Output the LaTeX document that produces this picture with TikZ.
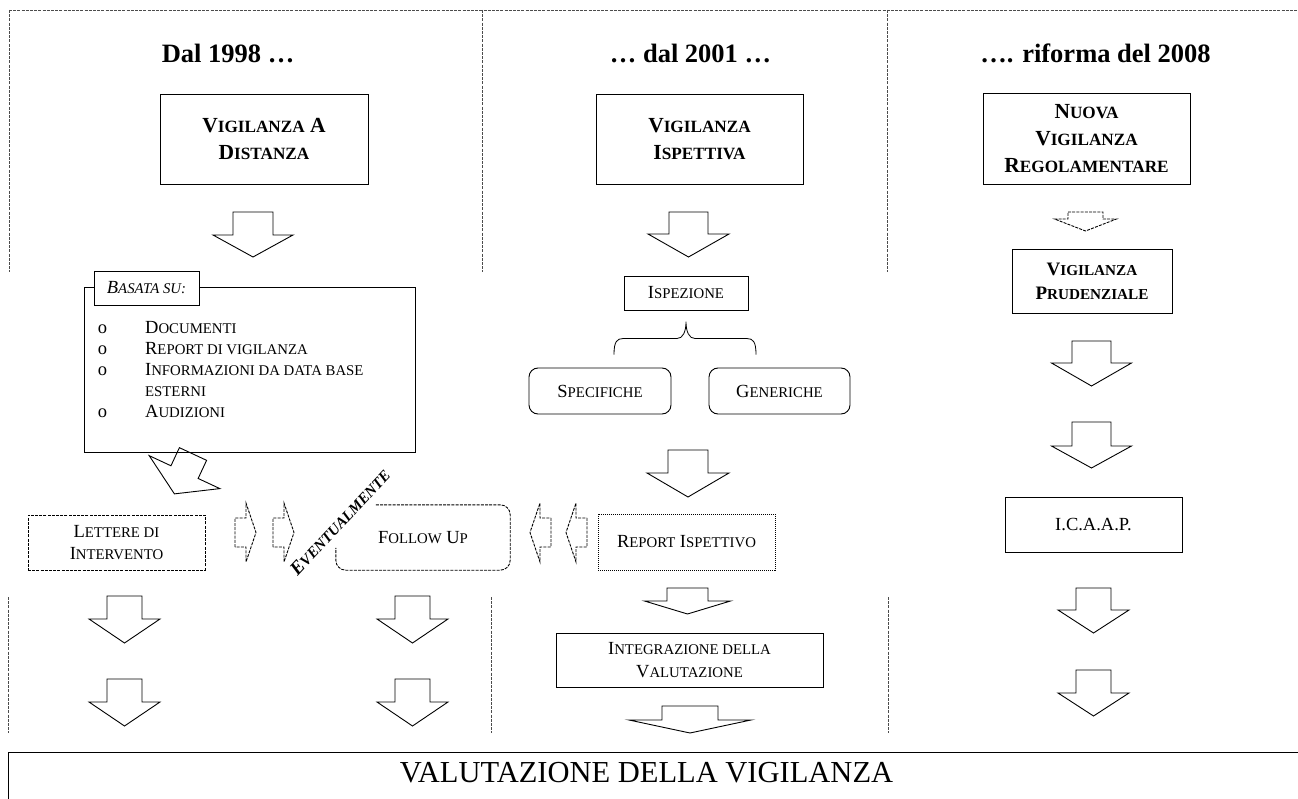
\documentclass[tikz,border=0pt]{standalone}
\usepackage{fontspec}
\setmainfont{Liberation Serif}
\usetikzlibrary{matrix,positioning,calc}

\makeatletter
\newcommand\piccole[1]{{\fontsize{\fpeval{0.8*\f@size}}{\f@baselineskip}\selectfont #1}}
\makeatother
\newcommand\testo{\fontsize{18.5}{22.5}\selectfont}

\tikzset{
pics/freccia/.style args={#1/#2/#3/#4}{code={
  \draw (-#1,0) -- (#1,0) -- (#1,#3) -- (#2,#3) -- (0,#3+#4) -- (-#2,#3) -- (-#1,#3) -- cycle;
  }}
}

\begin{document}
\begin{tikzpicture}[
x=1pt,y=-1pt,
titolo/.style={
  font=\fontsize{26.5}{32}\selectfont\bfseries,
  anchor=base
  },
testata/.style={
  draw,
  line width=0.9pt,
  align=center,
  inner sep=0pt,
  font=\fontsize{21.5}{27}\selectfont\bfseries
  },
scatola/.style={
  draw,
  line width=0.9pt,
  align=center,
  inner sep=0pt,
  font=\testo
  },
tonda/.style={scatola, rounded corners=9pt},
divisore/.style={dash pattern=on 3pt off 1.2pt, line width=0.7pt, black!70},
tratteggio/.style={dash pattern=on 3pt off 1.2pt},
puntini/.style={dash pattern=on 1pt off 1pt},
blocco/.style={line width=0.9pt}
]
\useasboundingbox (0,0) rectangle (1298,799);
\clip (0,0) rectangle (1298,799);

\draw[divisore] (9,10) -- (1298,10);
\foreach \xc in {9,482,887}
  \draw[divisore] (\xc,10) -- (\xc,272);
\foreach \xc in {8,491,888}
  \draw[divisore] (\xc,597) -- (\xc,733);

\node[titolo] (t1998) at (228,63) {Dal 1998 …};
\node[titolo] (t2001) at (690.5,63) {… dal 2001 …};
\node[titolo] (t2008) at (1095.5,63) {…. riforma del 2008};

\node[testata, minimum width=208pt, minimum height=90pt] (vdist) at (264,139) {V\piccole{IGILANZA} A\\D\piccole{ISTANZA}};
\node[testata, minimum width=207pt, minimum height=90pt] (visp) at (699.5,139) {V\piccole{IGILANZA}\\I\piccole{SPETTIVA}};
\node[testata, minimum width=207pt, minimum height=91pt] (vreg) at (1086.5,138.5) {N\piccole{UOVA}\\V\piccole{IGILANZA}\\R\piccole{EGOLAMENTARE}};
\node[testata, font=\fontsize{19}{24}\selectfont\bfseries, minimum width=160pt, minimum height=64pt] (vprud) at (1092,281) {V\piccole{IGILANZA}\\P\piccole{RUDENZIALE}};
\node[scatola, minimum width=177pt, minimum height=55pt] (icaap) at (1093.5,524.5) {I.C.A.A.P.};

\node[scatola, minimum width=124pt, minimum height=34pt] (isp) at (686,293) {I\piccole{SPEZIONE}};
\node[tonda, minimum width=142pt, minimum height=46pt] (spec) at (600,391) {S\piccole{PECIFICHE}};
\node[tonda, minimum width=141pt, minimum height=46pt] (gen) at (779.5,391) {G\piccole{ENERICHE}};
\node[scatola, puntini, minimum width=177pt, minimum height=56pt] (rep) at (686.5,542) {R\piccole{EPORT} I\piccole{SPETTIVO}};
\node[scatola, minimum width=267pt, minimum height=54pt] (integ) at (689.5,660) {I\piccole{NTEGRAZIONE DELLA}\\V\piccole{ALUTAZIONE}};

\coordinate (graffa) at ($(spec.north)+(14,-13)$);
\draw[line width=0.8pt] (graffa) .. controls +(0,-13) and +(-6,0) .. ++(9,-16) -- ++(54,0)
  .. controls +(6,0) and +(0,10) .. ++(9,-17) .. controls +(0,10) and +(-6,0) .. ++(9,17)
  -- ++(52,0) .. controls +(6,0) and +(0,-13) .. ++(9,16);

\node[scatola, minimum width=331pt, minimum height=165pt] (basata) at (249.5,369.5) {};
\node[scatola, fill=white, font=\testo\itshape, minimum width=105pt, minimum height=34pt] (tab) at (146.5,288) {B\piccole{ASATA SU:}};
\matrix (liste) [
  matrix of nodes,
  anchor=north west,
  inner sep=0pt,
  column sep=38pt,
  row sep=5pt,
  nodes={inner sep=0pt, anchor=base west, text height=12pt, text depth=4pt, font=\testo}
  ] at (97.5,321)
{
o & D\piccole{OCUMENTI} \\
o & R\piccole{EPORT DI VIGILANZA} \\
o & I\piccole{NFORMAZIONI DA DATA BASE} \\
  & \piccole{ESTERNI} \\
o & A\piccole{UDIZIONI} \\
};

\node[scatola, tratteggio, minimum width=177pt, minimum height=55pt] (lett) at (116.5,542.5) {L\piccole{ETTERE DI}\\I\piccole{NTERVENTO}};
\node[font=\testo, minimum width=174pt, minimum height=65pt] (fu) at (423,537.5) {F\piccole{OLLOW} U\piccole{P}};
\draw[line width=0.9pt, tratteggio, rounded corners=10pt] ($(fu.north west)+(40,0)$) -- (fu.north east) -- (fu.south east) -- (fu.south west) -- ($(fu.north west)+(0,43)$);
\node[rotate=47, font=\fontsize{19}{23}\selectfont\bfseries\itshape] (evt) at (340,522) {E\piccole{VENTUALMENTE}};

\pic[blocco] at (253,212) {freccia=20/40/23/22};
\pic[blocco] at (688.5,212) {freccia=19.5/40.5/22/23};
\pic[blocco, tratteggio] at (1085.5,212) {freccia=17.5/31/7/12};
\pic[blocco] at (1091.5,341) {freccia=19.5/40/22/23};
\pic[blocco] at (1091.5,422) {freccia=19.5/40/24/22};
\pic[blocco] at (1093.5,588) {freccia=17.5/35.5/22/23};
\pic[blocco] at (1093.5,670) {freccia=17.5/35.5/23/23};
\pic[blocco] at (688,450) {freccia=20/41/23/24};
\pic[blocco] at (687.5,588) {freccia=20.5/43/13/13};
\pic[blocco] at (690,706) {freccia=28/61/14/13};
\foreach \xc in {124.5,412.5}
{\foreach \yc in {596,679}
  \pic[blocco] at (\xc,\yc) {freccia=17.5/35.5/23/24};
}
\pic[blocco, rotate=-25] at (193,454) {freccia=15/39/20/24};
\foreach \xc in {235,273}
  \pic[blocco, tratteggio, rotate=90] at (\xc,532.5) {freccia=14.5/29.5/11/10};
\foreach \xc in {551,587}
  \pic[blocco, tratteggio, rotate=-90] at (\xc,532.5) {freccia=14.5/29.5/11/10};

\draw[line width=1pt] (8,752) rectangle (1320,830);
\node[anchor=base, font=\fontsize{30.5}{36}\selectfont] (valut) at (646.5,782) {VALUTAZIONE DELLA VIGILANZA};
\end{tikzpicture}
\end{document}
